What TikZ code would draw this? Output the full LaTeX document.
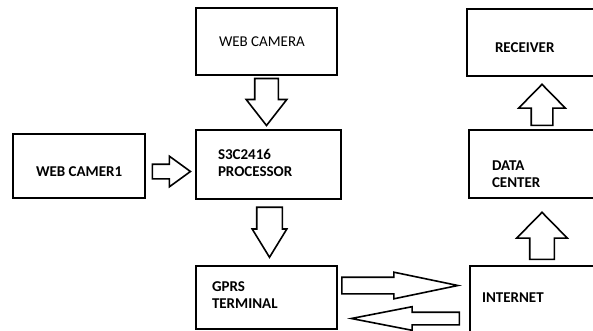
\documentclass[tikz,border=0pt]{standalone}
\usepackage{fontspec}
\setmainfont{Carlito}
\usetikzlibrary{shapes.arrows,positioning,calc}
\tikzset{
  box/.style={draw, line width=2.4pt, inner sep=0pt},
  lbl/.style={inner sep=0pt, align=left, font=\fontsize{15}{17}\selectfont\bfseries},
  fatarrow/.style={single arrow, draw, line width=1.6pt, fill=white, inner xsep=0pt, anchor=tip},
}
\begin{document}
\begin{tikzpicture}[x=1pt,y=-1pt]
  \clip (0,0) rectangle (593,331);
  % blocks
  \node[box, minimum width=141pt, minimum height=67pt] (cam) at (266.5,41.5) {};
  \node[box, minimum width=132pt, minimum height=64pt] (cam1) at (79,166) {};
  \node[box, minimum width=145pt, minimum height=69pt] (proc) at (268.5,164.5) {};
  \node[box, minimum width=141pt, minimum height=63pt] (gprs) at (266.5,297.5) {};
  \node[box, minimum width=153pt, minimum height=67pt] (recv) at (543.5,42.5) {};
  \node[box, minimum width=151pt, minimum height=68pt] (dc) at (544.5,164) {};
  \node[box, minimum width=150pt, minimum height=70pt] (inet) at (545,301) {};
  % texts
  \node[lbl, font=\fontsize{15}{17}\selectfont, right=24pt of cam.west] (camlbl) {WEB CAMERA};
  \node[lbl, right=24pt of cam1.west, yshift=-6pt] (cam1lbl) {WEB CAMER1};
  \node[lbl, right=23pt of proc.west, yshift=2pt] (proclbl) {S3C2416\\PROCESSOR};
  \node[lbl, right=17pt of gprs.west, yshift=2pt] (gprslbl) {GPRS\\TERMINAL};
  \node[lbl, right=29pt of recv.west, yshift=-5.5pt] (recvlbl) {RECEIVER};
  \node[lbl, right=24pt of dc.west, yshift=-10pt] (dclbl) {DATA\\CENTER};
  \node[lbl, right=13pt of inet.west, yshift=3pt] (inetlbl) {INTERNET};
  % block arrows
  \node[fatarrow, rotate=-90, inner ysep=11pt, minimum height=47pt,
        single arrow head extend=8.5pt, single arrow tip angle=76]
        (a1) at ([xshift=-2pt,yshift=2pt]proc.north) {};
  \node[fatarrow, inner ysep=6.5pt, minimum height=38pt,
        single arrow head extend=8pt, single arrow tip angle=72]
        (a2) at ([xshift=-3pt,yshift=-7pt]proc.west) {};
  \node[fatarrow, rotate=-90, inner ysep=12pt, minimum height=50pt,
        single arrow head extend=4.5pt, single arrow tip angle=63]
        (a3) at ([xshift=3pt,yshift=6pt]gprs.north) {};
  \node[fatarrow, inner ysep=7.5pt, minimum height=116pt,
        single arrow head extend=5pt, single arrow tip angle=23.5]
        (a4) at ([xshift=-7pt,yshift=15.5pt]inet.west) {};
  \node[fatarrow, rotate=180, inner ysep=5.5pt, minimum height=108pt,
        single arrow head extend=5.5pt, single arrow tip angle=22]
        (a5) at ([xshift=9pt,yshift=-21pt]gprs.east) {};
  \node[fatarrow, rotate=90, inner ysep=10pt, minimum height=41pt,
        single arrow head extend=12.5pt, single arrow tip angle=89]
        (a6) at ([xshift=-1.5pt,yshift=-6pt]recv.south) {};
  \node[fatarrow, rotate=90, inner ysep=11.5pt, minimum height=47pt,
        single arrow head extend=13pt, single arrow tip angle=89]
        (a7) at ([xshift=-2.5pt,yshift=-12pt]dc.south) {};
\end{tikzpicture}
\end{document}
